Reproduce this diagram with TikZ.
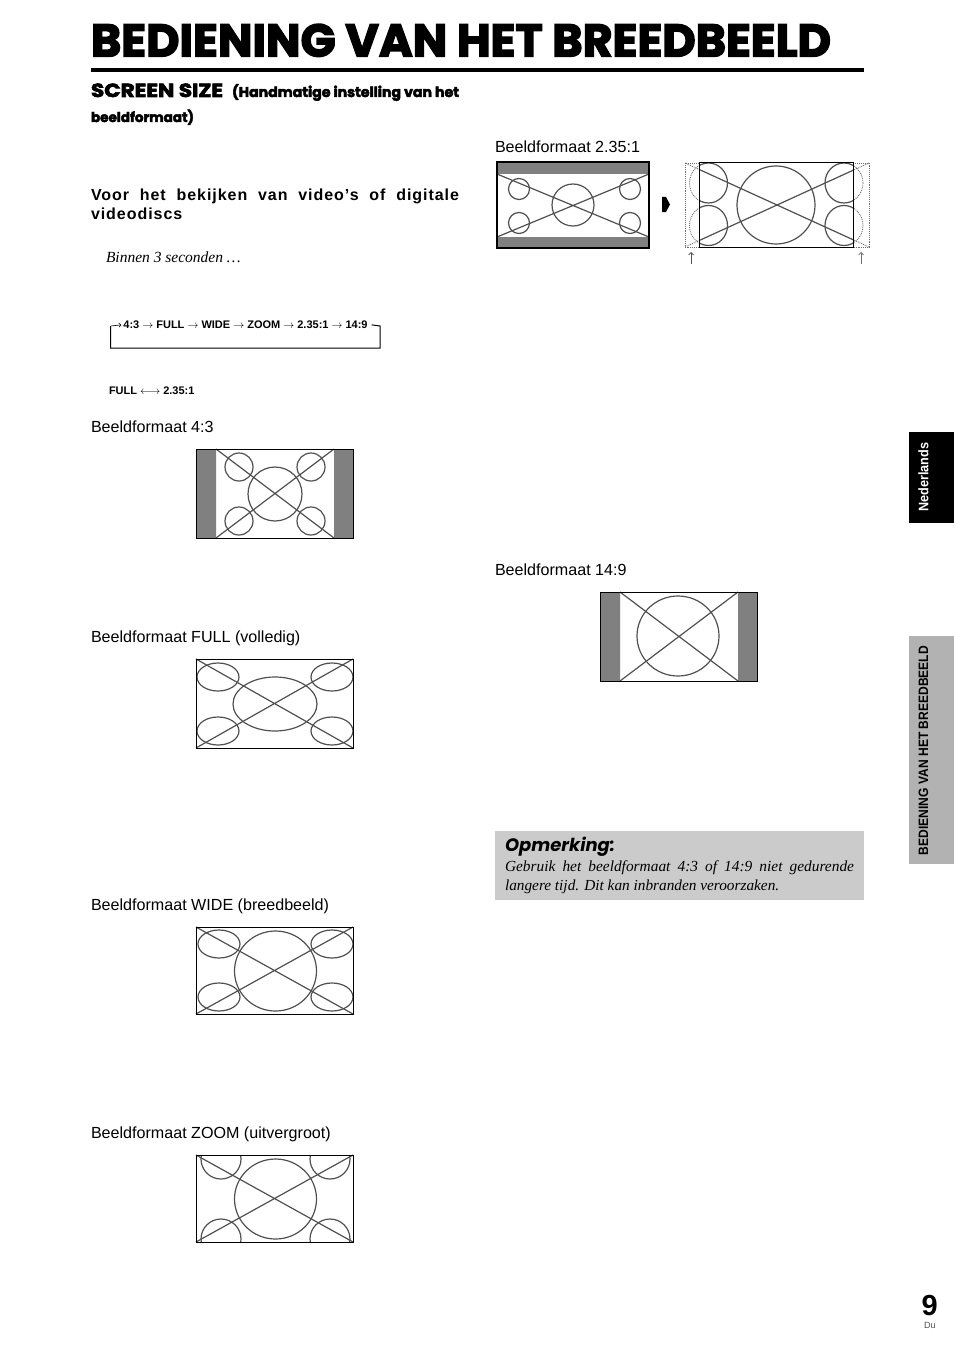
\documentclass[tikz,border=0pt]{standalone}
\usepackage{graphicx}
\usepackage{fontspec}
\setmainfont{Liberation Sans}
\newfontfamily\serifitalic{Liberation Serif}
\newfontfamily\headfont[BoldFeatures={FakeBold=3.2}]{Poppins}
\newfontfamily\spacedfont[LetterSpace=6]{Liberation Sans}
\usetikzlibrary{arrows.meta,positioning}
\definecolor{linegrey}{HTML}{505050}
\definecolor{bargrey}{HTML}{808080}
\definecolor{dotgrey}{HTML}{6E6E6E}
\definecolor{notegrey}{HTML}{CBCBCB}
\definecolor{tabgrey}{HTML}{B2B2B2}
\tikzset{
  txt/.style={anchor=base west,inner sep=0pt,outer sep=0pt},
  captiontxt/.style={txt,font=\fontsize{16.1}{19}\selectfont},
  smalltxt/.style={txt,font=\bfseries\fontsize{11}{13}\selectfont},
  screenframe/.style={draw=black,line width=1pt},
  greybar/.style={fill=bargrey,draw=none},
  figline/.style={draw=linegrey,line width=1.2pt},
  ghostline/.style={draw=dotgrey,line width=0.9pt,densely dotted}
}
\begin{document}
\begin{tikzpicture}[x=1pt,y=-1pt,>=Latex]
  \useasboundingbox (0,0) rectangle (954,1351);
  % header
  \node[txt] (title) at (91,56.5) {\resizebox{740pt}{32.5pt}{\headfont\bfseries BEDIENING VAN HET BREEDBEELD}};
  \fill[black] (91,68) rectangle (864,72);
  \node[txt] (size) at (91,97) {\resizebox{132pt}{13.5pt}{\headfont\bfseries SCREEN SIZE}};
  \node[txt] (sizea) at (232,97) {\resizebox{227pt}{!}{\headfont\bfseries (Handmatige instelling van het}};
  \node[txt] (sizeb) at (91,122) {\resizebox{103pt}{!}{\headfont\bfseries beeldformaat)}};
  \node[txt,font=\spacedfont\bfseries\fontsize{16}{19}\selectfont] (voor) at (91,200.5) {\makebox[368pt][s]{Voor het bekijken van video’s of digitale}};
  \node[txt,font=\spacedfont\bfseries\fontsize{16}{19}\selectfont] (voorb) at (91,219.5) {videodiscs};
  \node[txt,font=\serifitalic\itshape\fontsize{15.5}{18}\selectfont] (binnen) at (106,262) {Binnen 3 seconden …};
  % cycle
  \node[smalltxt,anchor=mid] (cycle) at (245.5,326) {4:3 $\rightarrow$ FULL $\rightarrow$ WIDE $\rightarrow$ ZOOM $\rightarrow$ 2.35:1 $\rightarrow$ 14:9};
  \coordinate (cyclea) at (380,326);
  \coordinate (cycleb) at (380,348);
  \coordinate (cyclec) at (110.7,348);
  \coordinate (cycled) at (110.7,326);
  \draw[line width=1pt] (cycle.east) ++(4,0) -- (cyclea) -- (cycleb) -- (cyclec) -- (cycled);
  \draw[->,line width=.6pt,>={Straight Barb[length=2pt,width=4pt]}] (cycled) -- ([xshift=-2pt]cycle.west);
  \node[smalltxt] (swap) at (109,394) {FULL $\longleftrightarrow$\ 2.35:1};
  % 4:3
  \node[captiontxt] (fa) at (91,432) {Beeldformaat 4:3};
  \fill[greybar] (196,449) rectangle (216,538) (334,449) rectangle (353,538);
  \draw[figline] (275,494) circle[radius=27pt];
  \foreach \x/\y in {239/467,311/467,239/521,311/521}
    \draw[figline] (\x,\y) circle[radius=14pt];
  \draw[figline] (216,449) -- (334,538) (216,538) -- (334,449);
  \draw[screenframe] (196,449) rectangle (353,538);
  % full
  \node[captiontxt] (fb) at (91,642) {Beeldformaat FULL (volledig)};
  \draw[figline] (275,704) ellipse[x radius=42pt,y radius=27pt];
  \foreach \x/\y in {218/677,332/677,218/731,332/731}
    \draw[figline] (\x,\y) ellipse[x radius=21pt,y radius=14pt];
  \draw[figline] (196,659) -- (353,748) (196,748) -- (353,659);
  \draw[screenframe] (196,659) rectangle (353,748);
  % wide
  \node[captiontxt] (fc) at (91,910) {Beeldformaat WIDE (breedbeeld)};
  \draw[figline] (275.5,971) ellipse[x radius=41pt,y radius=40pt];
  \foreach \x/\y in {219/944,332/944,219/997,332/997}
    \draw[figline] (\x,\y) ellipse[x radius=21pt,y radius=14pt];
  \draw[figline] (196,927) -- (353,1014) (196,1014) -- (353,927);
  \draw[screenframe] (196,927) rectangle (353,1014);
  % zoom
  \node[captiontxt] (fd) at (91,1138) {Beeldformaat ZOOM (uitvergroot)};
  \draw[figline] (275.5,1199) ellipse[x radius=41pt,y radius=40pt];
  \begin{scope}
    \clip (196,1155) rectangle (353,1242);
    \foreach \x/\y in {221/1159,330/1159,221/1239,330/1239}
      \draw[figline] (\x,\y) circle[radius=20pt];
  \end{scope}
  \draw[figline] (196,1155) -- (353,1242) (196,1242) -- (353,1155);
  \draw[screenframe] (196,1155) rectangle (353,1242);
  % 2.35:1
  \node[captiontxt] (fe) at (495,152.5) {Beeldformaat 2.35:1};
  \fill[greybar] (497,162) rectangle (649,174) (497,237) rectangle (649,248);
  \draw[figline] (573,205) circle[radius=21pt];
  \foreach \x/\y in {519/189,630/189,519/223,630/223}
    \draw[figline] (\x,\y) circle[radius=10.5pt];
  \draw[figline] (497,174) -- (649,237) (497,237) -- (649,174);
  \draw[screenframe,line width=1.3pt] (497,162) rectangle (649,248);
  \fill[black] (662,197) -- (666,197) -- (670,204.5) -- (666,212) -- (662,212) -- cycle;
  % 2.35:1 stretched
  \draw[ghostline] (685,163) rectangle (869,247);
  \foreach \x/\y in {708.5/183,844/183,708.5/225.5,844/225.5}
    \draw[ghostline] (\x,\y) ellipse[x radius=19pt,y radius=20pt];
  \draw[ghostline] (685,163) -- (869,247) (685,247) -- (869,163);
  \begin{scope}
    \clip (699,163) rectangle (853,247);
    \fill[white] (699,163) rectangle (853,247);
    \draw[figline] (776,205) circle[radius=39pt];
    \foreach \x/\y in {708.5/183,844/183,708.5/225.5,844/225.5}
      \draw[figline] (\x,\y) ellipse[x radius=19pt,y radius=20pt];
    \draw[figline] (685,163) -- (869,247) (685,247) -- (869,163);
  \end{scope}
  \draw[screenframe] (699,163) rectangle (853,247);
  \coordinate (upa) at (691,263.5);
  \coordinate (upb) at (691,252);
  \coordinate (upc) at (861,263.5);
  \coordinate (upd) at (861,252);
  \draw[->,line width=.7pt,linegrey,>={Straight Barb[length=2.5pt,width=5pt]}] (upa) -- (upb);
  \draw[->,line width=.7pt,dotgrey,>={Straight Barb[length=2.5pt,width=5pt]}] (upc) -- (upd);
  % 14:9
  \node[captiontxt] (ff) at (495,575) {Beeldformaat 14:9};
  \fill[greybar] (600,592) rectangle (620,681) (738,592) rectangle (757,681);
  \draw[figline] (678,636) ellipse[x radius=41pt,y radius=40pt];
  \draw[figline] (620,592) -- (738,681) (620,681) -- (738,592);
  \draw[screenframe] (600,592) rectangle (757,681);
  % note
  \fill[notegrey] (495,831) rectangle (864,900);
  \node[txt] (note) at (505,851) {\resizebox{110pt}{!}{\headfont\bfseries\itshape Opmerking:}};
  \node[txt,font=\serifitalic\itshape\fontsize{15.4}{18}\selectfont] (notea) at (505,871) {\makebox[349pt][s]{Gebruik het beeldformaat 4:3 of 14:9 niet gedurende}};
  \node[txt,font=\serifitalic\itshape\fontsize{15.3}{18}\selectfont] (noteb) at (505,890) {langere tijd. Dit kan inbranden veroorzaken.};
  % tabs
  \fill[black] (909,432) rectangle (954,523);
  \node[rotate=90,inner sep=0pt,text=white,font=\bfseries\fontsize{12.5}{14}\selectfont] (taba) at (923.5,477) {\resizebox{69pt}{10pt}{Nederlands}};
  \fill[tabgrey] (909,636) rectangle (954,864);
  \node[rotate=90,inner sep=0pt,font=\bfseries\fontsize{12.5}{14}\selectfont] (tabb) at (923.5,750.5) {\resizebox{209pt}{9.5pt}{BEDIENING VAN HET BREEDBEELD}};
  % page number
  \node[txt,font=\bfseries\fontsize{29}{30}\selectfont] (page) at (921.5,1315) {9};
  \node[txt,font=\fontsize{9}{10}\selectfont,text=linegrey] (lang) at (924,1328) {Du};
\end{tikzpicture}
\end{document}
